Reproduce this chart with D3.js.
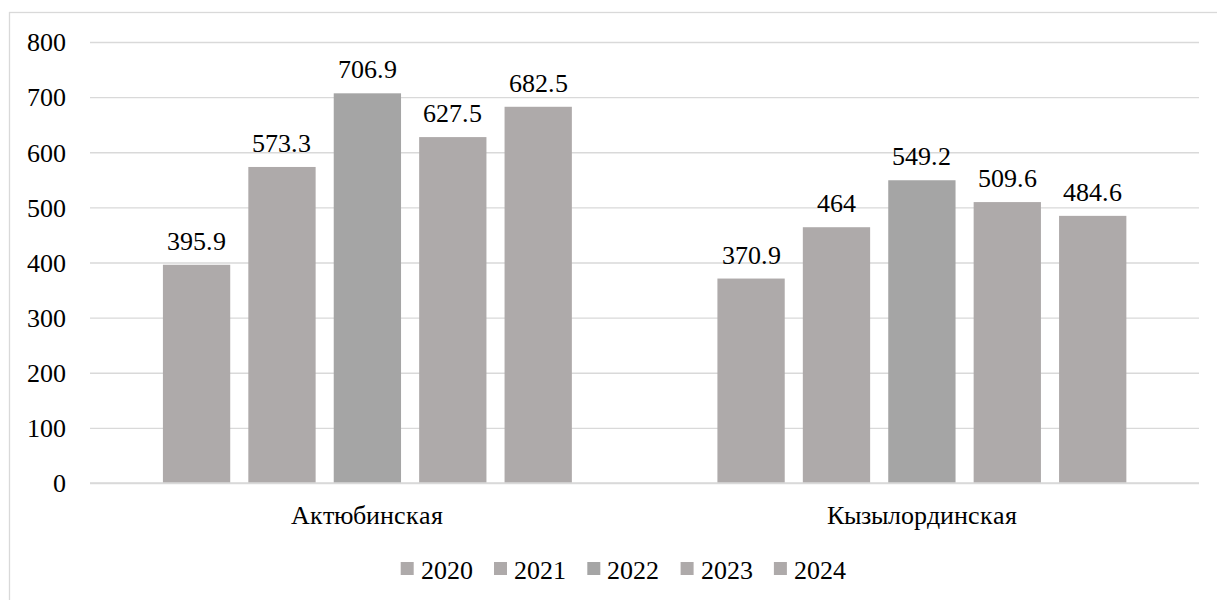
<!DOCTYPE html>
<html>
<head>
<meta charset="utf-8">
<script src="https://cdn.jsdelivr.net/npm/d3@7"></script>
<style>
  @font-face { font-family: "ChartSerif"; src: local("Liberation Serif"), local("LiberationSerif"), local("Liberation Serif Regular"), local("Times New Roman"), local("Tinos"); }
  html, body { margin: 0; padding: 0; background: #ffffff; }
  svg text { font-family: "ChartSerif", "Liberation Serif", "Times New Roman", serif; }
</style>
</head>
<body>
<svg id="s" width="1217" height="600"></svg>
<script>
// Regions and yearly values
const regions = ["Актюбинская", "Кызылординская"];
const years = ["2020", "2021", "2022", "2023", "2024"];
const values2020 = [395.9, 370.9];
const values2021 = [573.3, 464];
const values2022 = [706.9, 549.2];
const values2023 = [627.5, 509.6];
const values2024 = [682.5, 484.6];
const yTicks = [0, 100, 200, 300, 400, 500, 600, 700, 800];
const yearColors = ["#aeaaaa", "#aeaaaa", "#a5a5a5", "#aeaaaa", "#aeaaaa"];

const seriesByYear = [values2020, values2021, values2022, values2023, values2024];

const FONT = '"ChartSerif", "Liberation Serif", "Times New Roman", serif';
const FS = "26px";

const svg = d3.select("#s");
const plot = { left: 90, right: 1199, top: 42, bottom: 483 };

// Apply the serif face to a text selection
const serif = sel => sel
  .style("font-family", FONT)
  .style("font-size", FS)
  .style("fill", "#000");

// Chart area frame
svg.append("rect")
  .attr("x", 9.5).attr("y", 12.5)
  .attr("width", 1240).attr("height", 640)
  .attr("fill", "#ffffff")
  .attr("stroke", "#d9d9d9").attr("stroke-width", 1.3);

const y = d3.scaleLinear().domain([0, 800]).range([plot.bottom, plot.top]);
const x0 = d3.scaleBand().domain(regions).range([plot.left, plot.right]).padding(0);
const bw = x0.bandwidth();
const x1 = d3.scaleBand().domain(years)
  .range([bw * 0.1315, bw * 0.869])
  .paddingInner(0.212).paddingOuter(0);

// Gridlines and value axis
const yAxis = d3.axisLeft(y).tickValues(yTicks).tickSize(-(plot.right - plot.left)).tickPadding(20);
const gAxis = svg.append("g")
  .attr("transform", `translate(${plot.left},0)`)
  .call(yAxis);
gAxis.attr("font-family", null).attr("font-size", null);
gAxis.select(".domain").remove();
gAxis.selectAll(".tick line").attr("stroke", "#d9d9d9").attr("stroke-width", 1.3);
gAxis.selectAll(".tick text")
  .attr("x", -24)
  .attr("dy", "0.34em")
  .call(serif);

// Bars
const groups = svg.selectAll("g.region")
  .data(regions)
  .join("g")
  .attr("class", "region")
  .attr("transform", d => `translate(${x0(d)},0)`);

const rows = (ri) => years.map((yr, yi) => ({ year: yr, yi, value: seriesByYear[yi][ri] }));

groups.each(function (region, ri) {
  const g = d3.select(this);
  const data = rows(ri);
  g.selectAll("rect")
    .data(data)
    .join("rect")
    .attr("x", d => x1(d.year))
    .attr("y", d => y(d.value))
    .attr("width", x1.bandwidth())
    .attr("height", d => y(0) - y(d.value))
    .attr("fill", d => yearColors[d.yi]);
  g.selectAll("text.val")
    .data(data)
    .join("text")
    .attr("class", "val")
    .attr("x", d => x1(d.year) + x1.bandwidth() / 2)
    .attr("y", d => y(d.value) - 15)
    .attr("text-anchor", "middle")
    .call(serif)
    .text(d => d.value);
});

// Category axis baseline
svg.append("line")
  .attr("x1", plot.left).attr("x2", plot.right)
  .attr("y1", y(0)).attr("y2", y(0))
  .attr("stroke", "#d9d9d9").attr("stroke-width", 1.3);

// Category labels
svg.selectAll("text.cat")
  .data(regions)
  .join("text")
  .attr("class", "cat")
  .attr("x", d => x0(d) + bw / 2)
  .attr("y", 524)
  .attr("text-anchor", "middle")
  .call(serif)
  .text(d => d);

// Legend
const legend = svg.append("g").attr("class", "legend");
const itemW = 93.3;
const legendX = 400.7;
years.forEach((yr, i) => {
  const gx = legendX + i * itemW;
  legend.append("rect")
    .attr("x", gx).attr("y", 562)
    .attr("width", 13).attr("height", 13)
    .attr("fill", yearColors[i]);
  legend.append("text")
    .attr("x", gx + 20).attr("y", 579)
    .call(serif)
    .text(yr);
});
</script>
</body>
</html>
